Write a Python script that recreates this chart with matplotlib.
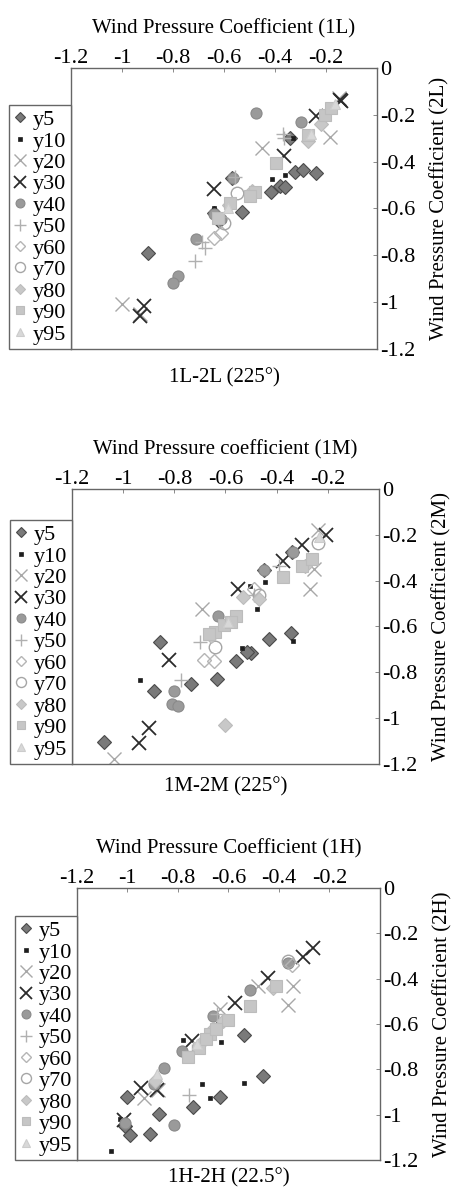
import matplotlib
matplotlib.use("Agg")
import matplotlib.pyplot as plt

plt.rcParams['font.family'] = ['Liberation Serif', 'DejaVu Serif']

series = ['y5', 'y10', 'y20', 'y30', 'y40', 'y50', 'y60', 'y70', 'y80', 'y90', 'y95']

# ---- panel 1: 1L-2L, (x = 1L, y = 2L) ----
L_y5 = [(-0.90, -0.79), (-0.57, -0.47), (-0.53, -0.615), (-0.64, -0.62), (-0.62, -0.655), (-0.415, -0.53),
        (-0.38, -0.505), (-0.36, -0.51), (-0.32, -0.445), (-0.29, -0.435), (-0.24, -0.45), (-0.34, -0.30)]
L_y10 = [(-0.41, -0.475), (-0.36, -0.455), (-0.64, -0.60), (-0.33, -0.30)]
L_y20 = [(-1.00, -1.01), (-0.45, -0.34), (-0.185, -0.295), (-0.15, -0.13), (-0.93, -1.05)]
L_y30 = [(-0.145, -0.135), (-0.24, -0.205), (-0.365, -0.375), (-0.64, -0.515), (-0.915, -1.015),
         (-0.93, -1.06), (-0.14, -0.14)]
L_y40 = [(-0.475, -0.19), (-0.30, -0.23), (-0.71, -0.73), (-0.78, -0.89), (-0.80, -0.92), (-0.61, -0.645),
         (-0.64, -0.625), (-0.565, -0.47)]
L_y50 = [(-0.715, -0.825), (-0.675, -0.77), (-0.685, -0.745), (-0.365, -0.30), (-0.555, -0.465), (-0.37, -0.28)]
L_y60 = [(-0.64, -0.725), (-0.61, -0.705)]
L_y70 = [(-0.55, -0.535), (-0.60, -0.66)]
L_y80 = [(-0.49, -0.525), (-0.58, -0.585), (-0.22, -0.24), (-0.27, -0.31)]
L_y90 = [(-0.48, -0.53), (-0.395, -0.405), (-0.27, -0.285), (-0.205, -0.20), (-0.18, -0.17), (-0.575, -0.575),
         (-0.625, -0.64), (-0.50, -0.545)]
L_y95 = [(-0.165, -0.155), (-0.26, -0.28), (-0.585, -0.60)]

# ---- panel 2: 1M-2M ----
M_y5 = [(-1.075, -1.105), (-0.855, -0.67), (-0.88, -0.88), (-0.735, -0.85), (-0.635, -0.83), (-0.56, -0.75),
        (-0.50, -0.715), (-0.43, -0.655), (-0.345, -0.63), (-0.45, -0.355), (-0.34, -0.275), (-0.515, -0.71)]
M_y10 = [(-0.935, -0.835), (-0.505, -0.425), (-0.445, -0.405), (-0.535, -0.695), (-0.335, -0.665), (-0.475, -0.525)]
M_y20 = [(-1.035, -1.18), (-0.69, -0.525), (-0.27, -0.435), (-0.24, -0.18), (-0.255, -0.35)]
M_y30 = [(-0.90, -1.045), (-0.94, -1.11), (-0.82, -0.745), (-0.55, -0.435), (-0.375, -0.315), (-0.30, -0.245),
         (-0.205, -0.20)]
M_y40 = [(-0.80, -0.88), (-0.81, -0.94), (-0.785, -0.945), (-0.63, -0.555), (-0.335, -0.275), (-0.45, -0.355)]
M_y50 = [(-0.775, -0.835), (-0.70, -0.67), (-0.49, -0.465), (-0.39, -0.335)]
M_y60 = [(-0.685, -0.745), (-0.645, -0.75), (-0.49, -0.435)]
M_y70 = [(-0.64, -0.69), (-0.47, -0.465), (-0.24, -0.235)]
M_y80 = [(-0.60, -1.03), (-0.655, -0.64), (-0.47, -0.48), (-0.29, -0.335), (-0.53, -0.47)]
M_y90 = [(-0.56, -0.555), (-0.64, -0.625), (-0.375, -0.385), (-0.30, -0.335), (-0.26, -0.305), (-0.605, -0.595),
         (-0.665, -0.635), (-0.58, -0.58)]
M_y95 = [(-0.235, -0.21), (-0.59, -0.58)]

# ---- panel 3: 1H-2H ----
H_y5 = [(-1.00, -0.92), (-1.01, -1.05), (-0.99, -1.09), (-0.91, -1.085), (-0.875, -0.995), (-0.74, -0.965),
        (-0.635, -0.92), (-0.54, -0.65), (-0.465, -0.83)]
H_y10 = [(-1.065, -1.16), (-0.78, -0.67), (-0.64, -0.60), (-0.63, -0.68), (-0.705, -0.865), (-0.675, -0.925),
         (-0.54, -0.86), (-1.03, -1.02)]
H_y20 = [(-0.365, -0.515), (-0.345, -0.43), (-0.935, -0.925), (-0.635, -0.535), (-0.485, -0.43), (-0.88, -0.89)]
H_y30 = [(-0.945, -0.88), (-0.575, -0.505), (-0.445, -0.395), (-0.305, -0.305), (-0.265, -0.265),
         (-0.745, -0.675), (-1.015, -1.025), (-0.885, -0.89)]
H_y40 = [(-0.855, -0.795), (-0.785, -0.72), (-0.66, -0.565), (-0.515, -0.45), (-0.815, -1.045), (-0.895, -0.865),
         (-1.01, -1.035), (-0.365, -0.33)]
H_y50 = [(-0.755, -0.915), (-0.745, -0.72), (-0.645, -0.555)]
H_y60 = [(-0.35, -0.34)]
H_y70 = [(-0.365, -0.32)]
H_y80 = [(-0.70, -0.675), (-0.89, -0.85), (-0.425, -0.44), (-0.62, -0.585), (-0.66, -0.62)]
H_y90 = [(-0.515, -0.52), (-0.675, -0.645), (-0.715, -0.705), (-0.76, -0.745), (-0.60, -0.58), (-0.41, -0.43),
         (-0.69, -0.665), (-0.65, -0.62)]
H_y95 = [(-0.885, -0.82), (-0.725, -0.69)]

xticks = [-1.2, -1.0, -0.8, -0.6, -0.4, -0.2]
xticklabels = ['-1.2', '-1', '-0.8', '-0.6', '-0.4', '-0.2']
yticks = [0, -0.2, -0.4, -0.6, -0.8, -1.0, -1.2]
yticklabels = ['0', '-0.2', '-0.4', '-0.6', '-0.8', '-1', '-1.2']

panels = [
    dict(data=[L_y5, L_y10, L_y20, L_y30, L_y40, L_y50, L_y60, L_y70, L_y80, L_y90, L_y95],
         top='Wind Pressure Coefficient (1L)', right='Wind Pressure Coefficient (2L)',
         bottom='1L-2L (225°)', pos=[0.1564, 0.7060, 0.674, 0.2367], bpad=-0.103),
    dict(data=[M_y5, M_y10, M_y20, M_y30, M_y40, M_y50, M_y60, M_y70, M_y80, M_y90, M_y95],
         top='Wind Pressure coefficient (1M)', right='Wind Pressure Coefficient (2M)',
         bottom='1M-2M (225°)', pos=[0.1586, 0.3564, 0.676, 0.2317], bpad=-0.084),
    dict(data=[H_y5, H_y10, H_y20, H_y30, H_y40, H_y50, H_y60, H_y70, H_y80, H_y90, H_y95],
         top='Wind Pressure Coefficient (1H)', right='Wind Pressure Coefficient (2H)',
         bottom='1H-2H (22.5°)', pos=[0.1696, 0.0227, 0.6674, 0.2291], bpad=-0.066),
]

# marker styles for y5 ... y95 (grey-scale print)
estilos = [
    dict(marker='D', ms=7, mfc='#7a7a7a', mec='#4a4a4a', mew=0.8),
    dict(marker='s', ms=3.5, mfc='#1e1e1e', mec='#1e1e1e', mew=0.5),
    dict(marker='x', ms=10, mfc='none', mec='#a8a8a8', mew=1.0),
    dict(marker='x', ms=10, mfc='none', mec='#2a2a2a', mew=1.3),
    dict(marker='o', ms=8, mfc='#9a9a9a', mec='#8a8a8a', mew=0.8),
    dict(marker='+', ms=10, mfc='none', mec='#b0b0b0', mew=1.0),
    dict(marker='D', ms=7, mfc='none', mec='#b5b5b5', mew=1.0),
    dict(marker='o', ms=9, mfc='none', mec='#a5a5a5', mew=1.0),
    dict(marker='D', ms=7, mfc='#c8c8c8', mec='#bcbcbc', mew=0.8),
    dict(marker='s', ms=8, mfc='#c6c6c6', mec='#bcbcbc', mew=0.8),
    dict(marker='^', ms=7, mfc='#d8d8d8', mec='#cccccc', mew=0.8),
]

fig = plt.figure(figsize=(4.54, 11.87), dpi=100)

for p in panels:
    ax = fig.add_axes(p['pos'])
    for nombre, puntos, st in zip(series, p['data'], estilos):
        xs = [a for a, b in puntos]
        ys = [b for a, b in puntos]
        ax.plot(xs, ys, linestyle='none', label=nombre, **st)

    ax.set_xlim(-1.2, 0)
    ax.set_ylim(-1.2, 0)
    ax.xaxis.tick_top()
    ax.xaxis.set_label_position('top')
    ax.yaxis.tick_right()
    ax.yaxis.set_label_position('right')
    ax.set_xticks(xticks)
    ax.set_xticklabels(xticklabels)
    ax.set_yticks(yticks)
    ax.set_yticklabels(yticklabels)
    ax.tick_params(direction='in', length=3, width=0.6, color='#777777', labelsize=16)
    ax.tick_params(axis='x', pad=0)
    ax.tick_params(axis='y', pad=2)
    ax.set_xlabel(p['top'], fontsize=15, labelpad=11)
    ax.set_ylabel(p['right'], fontsize=15, labelpad=11)
    for s in ax.spines.values():
        s.set_color('#666666')
        s.set_linewidth(1.0)
    ax.text(0.5, p['bpad'], p['bottom'], transform=ax.transAxes, ha='center', va='center', fontsize=15)

    leg = ax.legend(loc='lower right', bbox_to_anchor=(0, 0), borderaxespad=0, fontsize=16,
                    labelspacing=0.04, handlelength=0.6, handletextpad=0.3, borderpad=0.2,
                    markerscale=0.8, fancybox=False, framealpha=1)
    leg.get_frame().set_edgecolor('#666666')
    leg.get_frame().set_linewidth(1.0)

fig.savefig('out.png', dpi=100)
